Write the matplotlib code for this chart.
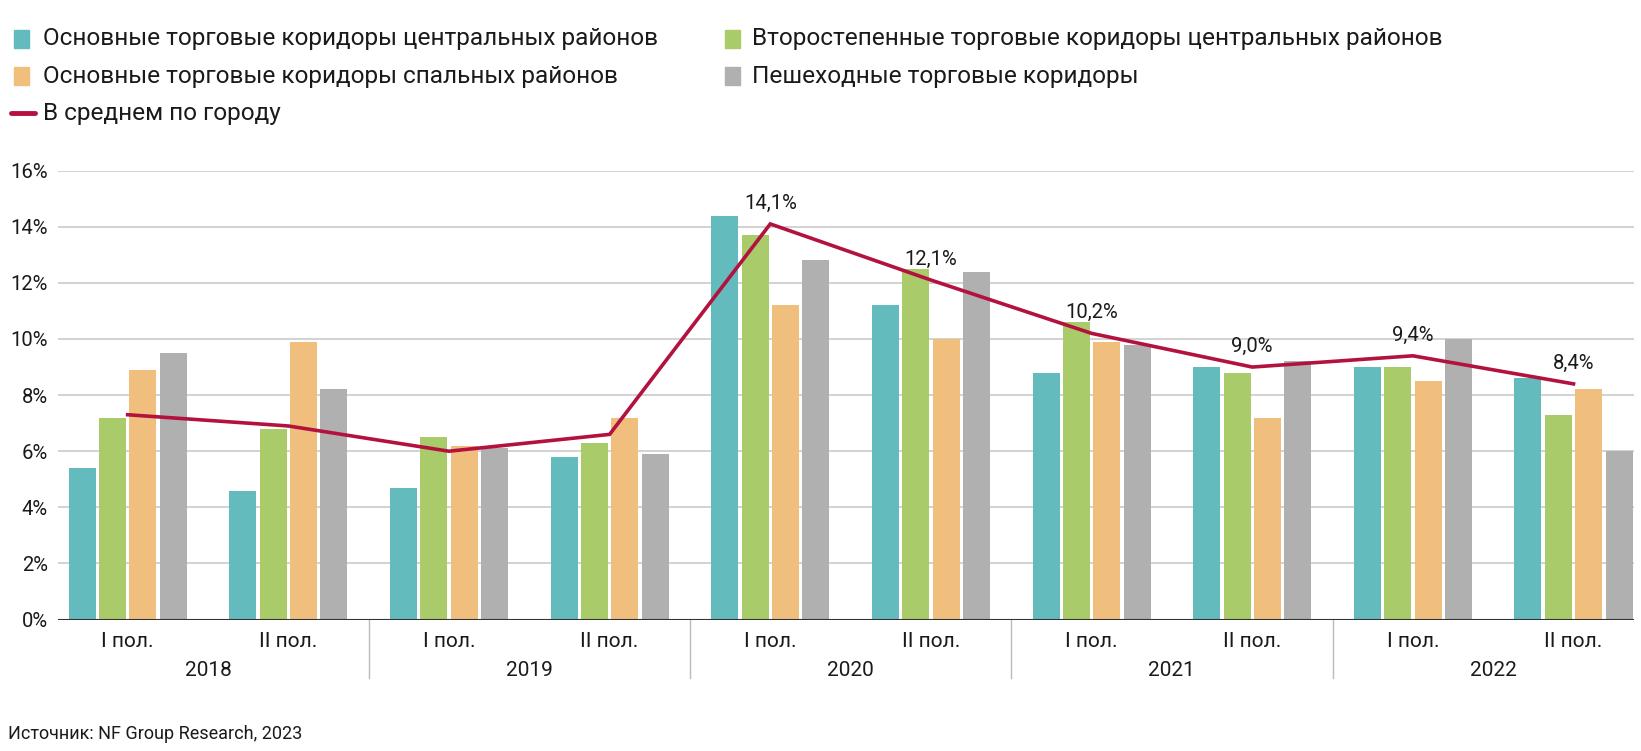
import matplotlib
matplotlib.use("Agg")
import matplotlib.pyplot as plt
import numpy as np
from matplotlib.patches import Rectangle
from matplotlib.lines import Line2D

plt.rcParams['font.family'] = ['Roboto', 'DejaVu Sans']

# данные
halves = ['I пол.', 'II пол.'] * 5
years = ['2018', '2019', '2020', '2021', '2022']
series_names = ['Основные торговые коридоры центральных районов',
                'Второстепенные торговые коридоры центральных районов',
                'Основные торговые коридоры спальных районов',
                'Пешеходные торговые коридоры']
central_main = [5.4, 4.6, 4.7, 5.8, 14.4, 11.2, 8.8, 9.0, 9.0, 8.6]
central_second = [7.2, 6.8, 6.5, 6.3, 13.7, 12.5, 10.6, 8.8, 9.0, 7.3]
sleeping_main = [8.9, 9.9, 6.2, 7.2, 11.2, 10.0, 9.9, 7.2, 8.5, 8.2]
pedestrian = [9.5, 8.2, 6.1, 5.9, 12.8, 12.4, 9.8, 9.2, 10.0, 6.0]
city_avg = [7.3, 6.9, 6.0, 6.6, 14.1, 12.1, 10.2, 9.0, 9.4, 8.4]
avg_labels = ['', '', '', '', '14,1%', '12,1%', '10,2%', '9,0%', '9,4%', '8,4%']
avg_name = 'В среднем по городу'

colors = ['#63BBBD', '#A9CB6A', '#F0BF7E', '#B0B0B0']
line_color = '#B3123F'
txt_color = '#1a1a1a'

fig = plt.figure(figsize=(16.41, 7.51), dpi=100)
ax = fig.add_axes([0.0351, 0.175, 0.9606, 0.5978])

x = np.arange(len(halves))
pitch = 0.189
width = 0.168
all_series = [central_main, central_second, sleeping_main, pedestrian]
for k, vals in enumerate(all_series):
    ax.bar(x + (k - 1.5) * pitch, vals, width=width, color=colors[k], zorder=2)

ax.plot(x, city_avg, color=line_color, lw=2.6, zorder=3, solid_joinstyle='miter')
for xi, yi, lab in zip(x, city_avg, avg_labels):
    if lab:
        ax.annotate(lab, (xi, yi), xytext=(0, 15), textcoords='offset points',
                    ha='center', va='center', fontsize=14.6, color=txt_color)

ax.set_ylim(0, 16)
ax.set_xlim(-0.436, 9.376)
ax.set_yticks(np.arange(0, 17, 2))
ax.set_yticklabels(['%d%%' % v for v in range(0, 17, 2)], fontsize=14.6, color=txt_color)
ax.set_xticks([])
ax.tick_params(axis='y', length=0, pad=7)
ax.grid(axis='y', color='#CFCFCF', lw=1.3, zorder=0)
for name, spine in ax.spines.items():
    spine.set_visible(False)
ax.axhline(0, color='#333333', lw=1.5, zorder=4)

# подписи полугодий и годов
tr = ax.get_xaxis_transform()
for xi, lab in zip(x, halves):
    ax.text(xi, -0.049, lab, transform=tr, ha='center', va='center',
            fontsize=15, color=txt_color)
for j, yr in enumerate(years):
    ax.text(2 * j + 0.5, -0.1145, yr, transform=tr, ha='center', va='center',
            fontsize=15, color=txt_color)
for sep in [1.5, 3.5, 5.5, 7.5]:
    ax.plot([sep, sep], [0, -0.13], transform=tr, color='#BBBBBB', lw=1, clip_on=False)

# легенда
legend_rows = [0.9485, 0.8983]
legend_cols = [(13.6, 43), (725, 752.5)]
order = [(0, 0, 0), (1, 0, 1), (2, 1, 0), (3, 1, 1)]
W, H = 1641.0, 751.0
for k, r, c in order:
    px, tx = legend_cols[c]
    yc = legend_rows[r]
    fig.patches.append(Rectangle((px / W, yc - 9 / H), 15 / W, 18 / H,
                                 transform=fig.transFigure, color=colors[k]))
    fig.text(tx / W, yc, series_names[k], ha='left', va='center',
             fontsize=17.6, color=txt_color)
fig.lines.append(Line2D([10.5 / W, 34.5 / W], [0.8495, 0.8495], transform=fig.transFigure,
                        color=line_color, lw=3.5, solid_capstyle='round'))
fig.text(43 / W, 0.8495, avg_name, ha='left', va='center', fontsize=17.6, color=txt_color)

fig.text(8.4 / W, 0.0232, 'Источник: NF Group Research, 2023', ha='left', va='center',
         fontsize=13, color=txt_color)

fig.savefig('out.png', dpi=100)
